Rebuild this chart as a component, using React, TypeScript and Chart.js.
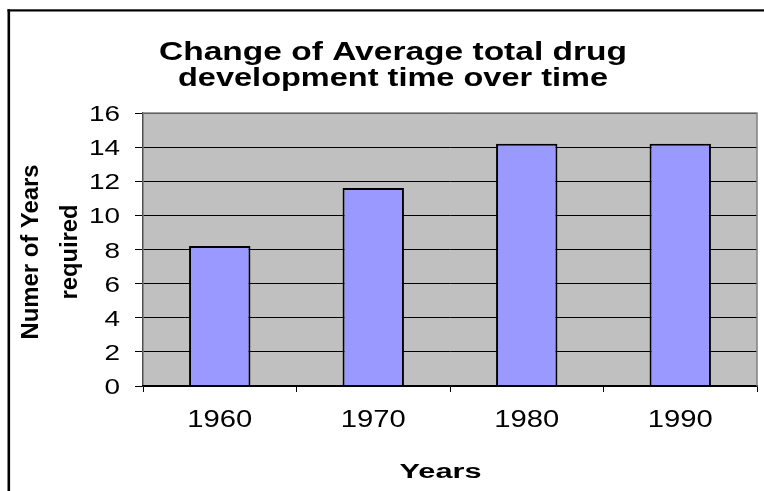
import React, { useEffect, useRef } from "react";
import { Chart, registerables } from "chart.js";

Chart.register(...registerables);

const categories = ["1960", "1970", "1980", "1990"];
const yearsRequired = [8.2, 11.6, 14.2, 14.2];
const yMin = 0;
const yMax = 16;
const yStep = 2;
const titleLines = ["Change of Average total drug", "development time over time"];
const yTitleLines = ["Numer of Years", "required"];
const xTitle = "Years";

const FONT = "'Liberation Sans', Arial, sans-serif";

function drawText(
  ctx: CanvasRenderingContext2D,
  text: string,
  x: number,
  y: number,
  font: string,
  align: CanvasTextAlign,
  opts: { scaleX?: number; width?: number; rotate?: number } = {}
) {
  ctx.save();
  ctx.font = font;
  ctx.fillStyle = "#000";
  ctx.textBaseline = "alphabetic";
  ctx.textAlign = align;
  ctx.translate(x, y);
  if (opts.rotate) ctx.rotate(opts.rotate);
  let s = opts.scaleX ?? 1;
  if (opts.width) s = opts.width / ctx.measureText(text).width;
  ctx.scale(s, 1);
  ctx.fillText(text, 0, 0);
  ctx.restore();
}

const decorPlugin = {
  id: "decor",
  beforeDraw(chart: any) {
    const { ctx, chartArea: a, width, height } = chart;
    ctx.save();
    ctx.fillStyle = "#fff";
    ctx.fillRect(0, 0, width, height);
    ctx.fillStyle = "#C0C0C0";
    ctx.fillRect(a.left, a.top, a.right - a.left, a.bottom - a.top);
    ctx.restore();
  },
  afterDraw(chart: any) {
    const { ctx, chartArea: a, scales } = chart;
    ctx.save();
    // plot area border (top, right)
    ctx.strokeStyle = "#808080";
    ctx.lineWidth = 1.5;
    ctx.beginPath();
    ctx.moveTo(a.left, a.top);
    ctx.lineTo(a.right, a.top);
    ctx.lineTo(a.right, a.bottom);
    ctx.stroke();
    // outer frame (left & top edges visible)
    ctx.fillStyle = "#000";
    ctx.fillRect(7.5, 9.3, 2.6, chart.height);
    ctx.fillRect(7.5, 9.3, chart.width, 2.2);
    ctx.restore();

    // title
    drawText(ctx, titleLines[0], 393, 60, `bold 26px ${FONT}`, "center", { width: 468 });
    drawText(ctx, titleLines[1], 393, 86, `bold 26px ${FONT}`, "center", { width: 430 });

    // y tick labels
    const ys = scales.y;
    ys.ticks.forEach((t: any) => {
      const py = ys.getPixelForValue(t.value);
      drawText(ctx, String(t.value), 120, py + 8, `22px ${FONT}`, "right", { scaleX: 1.27 });
    });

    // x tick labels
    const xs = scales.x;
    categories.forEach((c, i) => {
      const px = xs.getPixelForValue(i);
      drawText(ctx, c, px, 426.5, `23px ${FONT}`, "center", { scaleX: 1.27 });
    });

    // x title
    drawText(ctx, xTitle, 440.5, 477.5, `bold 20px ${FONT}`, "center", { width: 82 });

    // y title (rotated)
    drawText(ctx, yTitleLines[0], 37.5, 252, `bold 23px ${FONT}`, "center", {
      rotate: -Math.PI / 2,
      width: 175,
    });
    drawText(ctx, yTitleLines[1], 77, 252, `bold 23px ${FONT}`, "center", {
      rotate: -Math.PI / 2,
      width: 95,
    });
  },
};

export default function App() {
  const ref = useRef<HTMLCanvasElement | null>(null);

  useEffect(() => {
    if (!ref.current) return;
    const chart = new Chart(ref.current, {
      type: "bar",
      data: {
        labels: categories,
        datasets: [
          {
            data: yearsRequired,
            backgroundColor: "#9999FF",
            borderColor: "#000",
            borderWidth: 2,
            barPercentage: 0.4,
            categoryPercentage: 1,
          },
        ],
      },
      options: {
        animation: false,
        responsive: false,
        devicePixelRatio: 1,
        events: [],
        layout: { padding: { left: 0, top: 113, right: 7, bottom: 97 } },
        plugins: {
          legend: { display: false },
          title: { display: false },
          tooltip: { enabled: false },
        },
        scales: {
          x: {
            offset: true,
            afterFit: (s: any) => {
              s.height = 8;
            },
            grid: {
              display: true,
              offset: true,
              drawOnChartArea: false,
              drawTicks: true,
              tickLength: 6,
              color: "#000",
              lineWidth: 1,
            },
            border: { display: true, color: "#000", width: 1.5, z: 1 },
            ticks: { display: false },
          },
          y: {
            min: yMin,
            max: yMax,
            afterFit: (s: any) => {
              s.width = 143;
            },
            ticks: { display: false, stepSize: yStep },
            grid: {
              color: "#000",
              lineWidth: 1,
              drawTicks: true,
              tickLength: 8,
            },
            border: { display: true, color: "#505050", width: 1.5 },
          },
        },
      },
      plugins: [decorPlugin],
    });
    return () => chart.destroy();
  }, []);

  return (
    <div style={{ position: "fixed", left: 0, top: 0, width: 764, height: 491, background: "#fff" }}>
      <canvas ref={ref} width={764} height={491} style={{ display: "block", width: 764, height: 491 }} />
    </div>
  );
}
